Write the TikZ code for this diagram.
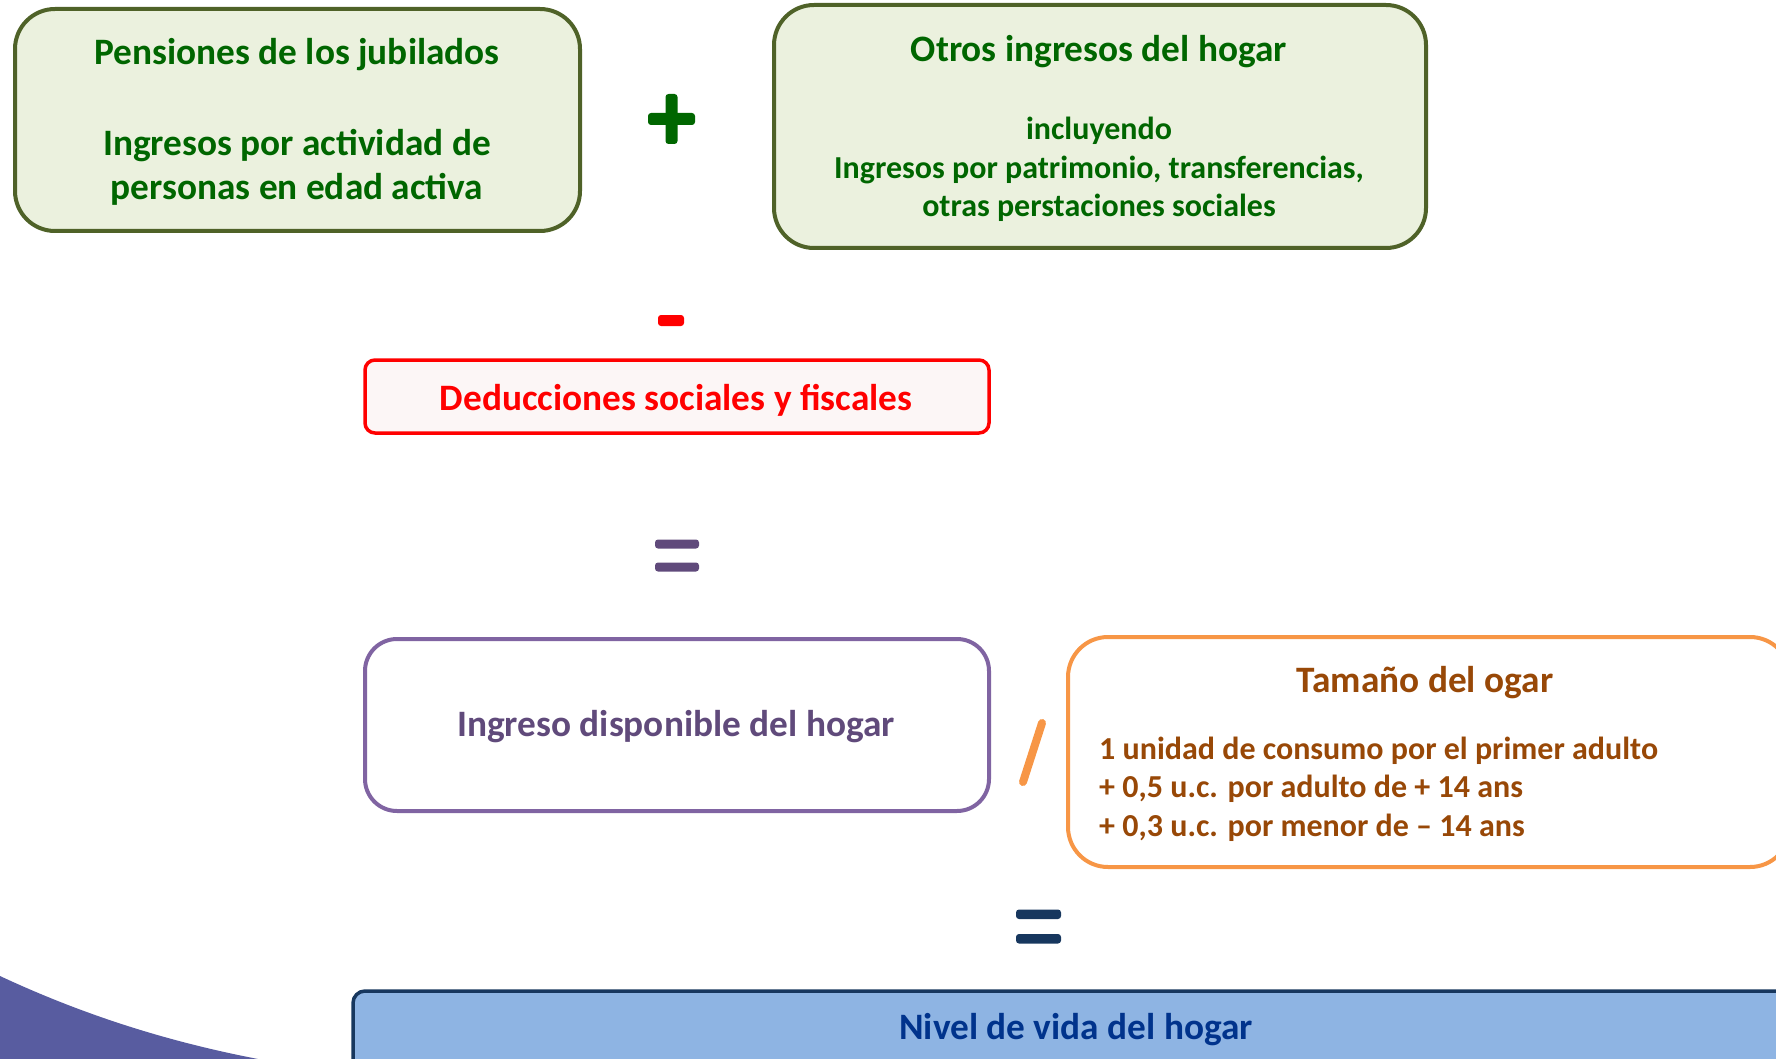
\documentclass[tikz,border=0pt]{standalone}
\usepackage{fontspec}
\setmainfont{Carlito}
\definecolor{gtext}{RGB}{0,102,0}
\definecolor{gfill}{RGB}{235,241,222}
\definecolor{gline}{RGB}{79,98,40}
\definecolor{rfill}{RGB}{252,246,246}
\definecolor{pline}{RGB}{128,100,162}
\definecolor{ptext}{RGB}{96,74,123}
\definecolor{oline}{RGB}{247,150,70}
\definecolor{otext}{RGB}{152,72,7}
\definecolor{navy}{RGB}{23,55,94}
\definecolor{bfill}{RGB}{142,180,227}
\definecolor{btext}{RGB}{0,51,140}
\definecolor{swoosh}{RGB}{88,92,160}
\tikzset{
  box/.style={draw, line width=4pt, inner sep=0pt},
  big/.style={font=\fontsize{37.3}{44}\selectfont\bfseries, anchor=mid, inner sep=0pt},
  small/.style={font=\fontsize{32}{38}\selectfont\bfseries, anchor=mid, inner sep=0pt},
  opbar/.style={rounded corners=3pt}
}
\begin{document}
\begin{tikzpicture}[x=1pt,y=-1pt]
\useasboundingbox (0,0) rectangle (1776,1059);
\clip (0,0) rectangle (1776,1059);
% swoosh
\fill[swoosh] (0,976) .. controls (90,1018) and (175,1043) .. (258,1059) -- (0,1059) -- cycle;
% green boxes
\node[box, draw=gline, fill=gfill, rounded corners=40pt, minimum width=565pt, minimum height=222pt] (pens) at (297.5,120) {};
\node[big, text=gtext] (pens1) at (297,62) {Pensiones de los jubilados};
\node[big, text=gtext] (pens2) at (297,153) {Ingresos por actividad de};
\node[big, text=gtext] (pens3) at (297,197) {personas en edad activa};
\node[box, draw=gline, fill=gfill, rounded corners=40pt, minimum width=652pt, minimum height=243pt] (otros) at (1100,126.5) {};
\node[big, text=gtext] (otros1) at (1099,59) {Otros ingresos del hogar};
\node[small, text=gtext] (otros2) at (1099,137) {incluyendo};
\node[small, text=gtext] (otros3) at (1099,176) {Ingresos por patrimonio, transferencias,};
\node[small, text=gtext] (otros4) at (1099,214) {otras perstaciones sociales};
% plus
\fill[gtext, opbar] (648,113) rectangle (695,125);
\fill[gtext, opbar] (665.5,94) rectangle (677.5,144);
% minus
\fill[red, opbar] (658,315) rectangle (684,326);
% red box
\node[draw=red, line width=3.5pt, fill=rfill, rounded corners=10pt, minimum width=624pt, minimum height=73pt, inner sep=0pt] (ded) at (677,396.5) {};
\node[big, text=red] (dedt) at (676,408) {Deducciones sociales y fiscales};
% equals purple
\fill[ptext, opbar] (655,539.5) rectangle (699,548.5);
\fill[ptext, opbar] (655,562.5) rectangle (699,571.5);
% purple box
\node[box, draw=pline, fill=white, rounded corners=32pt, minimum width=624pt, minimum height=172pt] (disp) at (677,725) {};
\node[big, text=ptext] (dispt) at (676,734) {Ingreso disponible del hogar};
% slash
\coordinate (s1) at (1042,723);
\coordinate (s2) at (1023,782);
\draw[oline, line width=8pt, line cap=round] (s1) -- (s2);
% orange box
\node[box, draw=oline, fill=white, rounded corners=40pt, minimum width=722pt, minimum height=230pt] (tam) at (1429,752) {};
\node[big, text=otext] (tam1) at (1425,690) {Tamaño del ogar};
\node[small, text=otext, anchor=mid west] (tam2) at (1099,757) {1 unidad de consumo por el primer adulto};
\node[small, text=otext, anchor=mid west] (tam3) at (1099,795) {+ 0,5 u.c. por adulto de + 14 ans};
\node[small, text=otext, anchor=mid west] (tam4) at (1099,834) {+ 0,3 u.c. por menor de -- 14 ans};
% equals navy
\fill[navy, opbar] (1016,909.5) rectangle (1061,919);
\fill[navy, opbar] (1016,934) rectangle (1061,943.5);
% blue box
\node[draw=navy, line width=3.5pt, fill=bfill, rounded corners=12pt, minimum width=1447pt, minimum height=99pt, inner sep=0pt] (nivel) at (1076.5,1040.5) {};
\node[big, text=btext] (nivelt) at (1076,1037) {Nivel de vida del hogar};
\end{tikzpicture}
\end{document}
